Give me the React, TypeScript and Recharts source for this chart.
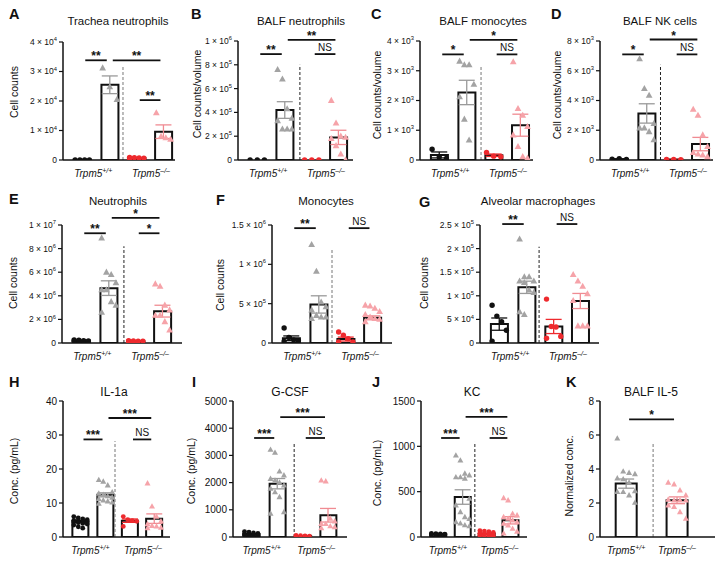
import React from 'react';
import { ComposedChart, Bar, Scatter, XAxis, YAxis, ErrorBar, ReferenceLine } from 'recharts';

const FONT = '"Liberation Sans", Arial, Helvetica, sans-serif';

const BLACK = '#111111';
const GRAY = '#a3a3a3';
const GRAY_ERR = '#9a9a9a';
const RED = '#ee2a2e';
const PINK = '#f6a3a9';
const PINK_ERR = '#f08b92';

const GENO = ['+/+', '\u2013/\u2013'];
const CENTERS4 = [0.7, 1.7, 2.68, 3.65];
const GENO_AT4 = [1.1, 3.2];
const CENTERS2 = [0.95, 2.8];

// ---- A: Trachea neutrophils
const aTicks = [0, 10000, 20000, 30000, 40000];
const aPts = [[0, 0, 0, 0], [31200, 24800, 20500], [900, 800, 700, 600, 500], [16000, 8000, 7500, 7000]];
const aMean = [0, 25500, 700, 9600];
const aSem = [0, 3000, 100, 2300];
const aBrackets: Bracket[] = [[0, 1, 33800, '**'], [1, 3, 33800, '**'], [2, 3, 20300, '**']];

// ---- B: BALF neutrophils
const bTicks = [0, 200000, 400000, 600000, 800000, 1000000];
const bPts = [[0, 0, 0], [760000, 680000, 430000, 350000, 330000, 260000, 260000, 260000], [0, 0, 0], [500000, 310000, 200000, 190000, 180000, 120000, 50000, 0]];
const bMean = [0, 420000, 0, 190000];
const bSem = [0, 70000, 0, 60000];
const bBrackets: Bracket[] = [[0, 1, 890000, '**'], [1, 3, 1010000, '**'], [2, 3, 890000, 'NS']];

// ---- C: BALF monocytes
const cTicks = [0, 1000, 2000, 3000, 4000];
const cPts = [[360, 100, 50], [3320, 3200, 3200, 2540, 2120, 1370, 670], [250, 130, 110], [3300, 1730, 1500, 1120, 840, 450, 110, 60]];
const cMean = [170, 2270, 160, 1170];
const cSem = [100, 410, 40, 370];
const cBrackets: Bracket[] = [[0, 1, 3550, '*'], [1, 3, 4040, '*'], [2, 3, 3550, 'NS']];

// ---- D: BALF NK cells
const dTicks = [0, 2000, 4000, 6000, 8000];
const dPts = [[50, 80, 30], [6800, 4800, 4350, 2450, 2150, 2150, 1900, 1350], [30, 40, 20], [3400, 3000, 1680, 900, 500, 400, 330, 220]];
const dMean = [55, 3130, 30, 1070];
const dSem = [15, 650, 8, 450];
const dBrackets: Bracket[] = [[0, 1, 7100, '*'], [1, 3, 8100, '*'], [2, 3, 7100, 'NS']];

// ---- E: Neutrophils
const eTicks = [0, 2000000, 4000000, 6000000, 8000000, 10000000];
const ePts = [[250000, 230000, 200000, 180000, 150000], [8900000, 6000000, 5800000, 5100000, 4500000, 4500000, 3500000, 3200000, 2600000], [200000, 180000, 160000, 150000, 130000, 120000], [5000000, 4800000, 3200000, 2800000, 2350000, 2350000, 1800000, 1100000]];
const eMean = [200000, 4650000, 150000, 2700000];
const eSem = [20000, 620000, 15000, 500000];
const eBrackets: Bracket[] = [[0, 1, 9300000, '**'], [1, 3, 10600000, '*'], [2, 3, 9300000, '*']];

// ---- F: Monocytes
const fTicks = [0, 500000, 1000000, 1500000];
const fPts = [[190000, 70000, 40000, 30000, 20000], [1250000, 910000, 520000, 460000, 420000, 350000, 330000, 330000, 310000], [140000, 100000, 55000, 13000, 13000], [480000, 470000, 440000, 400000, 360000, 330000, 310000, 300000, 270000]];
const fMean = [60000, 490000, 50000, 320000];
const fSem = [30000, 110000, 25000, 25000];
const fBrackets: Bracket[] = [[0, 1, 1460000, '**'], [2, 3, 1460000, 'NS']];

// ---- G: Alveolar macrophages
const gTicks = [0, 50000, 100000, 150000, 200000, 250000];
const gPts = [[80000, 57000, 45000, 27000, 4000], [220000, 140000, 140000, 131000, 131000, 128000, 112000, 107000, 66000, 60000], [93000, 35000, 34000, 14000, 10000], [145000, 131000, 120000, 104000, 90000, 36000, 36000, 36000]];
const gMean = [40000, 118000, 35000, 89000];
const gSem = [13000, 13000, 15000, 16000];
const gBrackets: Bracket[] = [[0, 1, 252000, '**'], [2, 3, 252000, 'NS']];

// ---- H: IL-1a
const hTicks = [0, 10, 20, 30, 40];
const hPts = [[6.0, 5.6, 5.3, 5.1, 4.9, 4.8, 4.6, 4.5, 4.4, 4.2, 4.0, 3.8, 3.5, 3.0, 2.6], [16.8, 16.3, 15.2, 13.2, 12.8, 12.4, 12.0, 11.6, 11.2, 10.8, 10.5, 10.2, 9.8], [6.0, 5.1, 4.8, 4.6, 3.1], [15.8, 9.0, 6.0, 4.6, 3.8, 3.3, 3.1, 2.8, 2.6]];
const hMean = [4.6, 12.4, 4.8, 5.4];
const hSem = [0.25, 0.6, 0.5, 1.4];
const hBrackets: Bracket[] = [[0, 1, 28.7, '***'], [1, 3, 35, '***'], [2, 3, 28.7, 'NS']];

// ---- I: G-CSF
const iTicks = [0, 1000, 2000, 3000, 4000, 5000];
const iPts = [[200, 180, 150, 130, 110, 100, 90, 80, 70, 60, 50, 40], [3210, 3100, 2410, 2270, 2140, 2080, 2000, 1900, 1780, 1650, 1470, 920, 860], [60, 50, 40, 30, 20], [2080, 2050, 680, 580, 480, 480, 400, 360, 330]];
const iMean = [100, 1960, 40, 800];
const iSem = [15, 190, 8, 250];
const iBrackets: Bracket[] = [[0, 1, 3640, '***'], [1, 3, 4410, '***'], [2, 3, 3640, 'NS']];

// ---- J: KC
const jTicks = [0, 500, 1000, 1500];
const jPts = [[40, 38, 35, 32, 30, 30, 28, 26, 25, 22, 20], [900, 845, 700, 680, 660, 660, 645, 423, 350, 275, 220, 200, 165, 150, 130, 120], [70, 65, 60, 50, 40, 35, 30, 25, 20, 15, 10, 5], [430, 405, 257, 240, 220, 202, 184, 165, 147, 129, 92, 60, 40]];
const jMean = [30, 441, 35, 184];
const jSem = [3, 80, 7, 40];
const jBrackets: Bracket[] = [[0, 1, 1092, '***'], [1, 3, 1324, '***'], [2, 3, 1092, 'NS']];

// ---- K: BALF IL-5
const kTicks = [0, 2, 4, 6, 8];
const kPts = [[5.8, 3.86, 3.78, 3.7, 3.45, 3.4, 3.2, 2.7, 2.65, 2.65, 2.45, 2.02], [3.2, 3.1, 2.75, 2.45, 2.2, 2.16, 2.16, 2.16, 1.86, 1.78, 1.47, 1.08]];
const kMean = [3.14, 2.16];
const kSem = [0.27, 0.2];
const kBrackets: Bracket[] = [[0, 1, 6.92, '*']];

type Bracket = [number, number, number, string];
type Style = { kind: 'dot' | 'tri'; color: string; err: string };

const STYLE4: Style[] = [
  { kind: 'dot', color: BLACK, err: BLACK },
  { kind: 'tri', color: GRAY, err: GRAY_ERR },
  { kind: 'dot', color: RED, err: RED },
  { kind: 'tri', color: PINK, err: PINK_ERR },
];
const STYLE2: Style[] = [STYLE4[1], STYLE4[3]];

interface Spec {
  letter: string; title: string; yLabel: string;
  box: [number, number, number, number];
  xMax: number; centers: number[]; genoAt: number[];
  ticks: number[]; sci: boolean;
  pts: number[][]; mean: number[]; sem: number[];
  styles: Style[]; barSize: number; mark: number;
  brackets: Bracket[]; divider: [number, number, string];
  letterAt: [number, number]; titleAt: [number, number, number]; yLabelAt: [number, number, number];
}

const SPECS: Spec[] = [
  { letter: 'A', title: 'Trachea neutrophils', yLabel: 'Cell counts', box: [63, 175, 42, 160], xMax: 4.07, centers: CENTERS4, genoAt: GENO_AT4, ticks: aTicks, sci: true, pts: aPts, mean: aMean, sem: aSem, styles: STYLE4, barSize: 17, mark: 2.7, brackets: aBrackets, divider: [2.18, 32000, '#777'], letterAt: [9, 9], titleAt: [118, 22, 11.5], yLabelAt: [14, 92, 10.5] },
  { letter: 'B', title: 'BALF neutrophils', yLabel: 'Cell counts/volume', box: [238, 353, 41, 160], xMax: 4.18, centers: CENTERS4, genoAt: GENO_AT4, ticks: bTicks, sci: true, pts: bPts, mean: bMean, sem: bSem, styles: STYLE4, barSize: 17, mark: 2.7, brackets: bBrackets, divider: [2.25, 800000, '#222'], letterAt: [191, 9], titleAt: [301, 22, 11.5], yLabelAt: [197, 94, 10.5] },
  { letter: 'C', title: 'BALF monocytes', yLabel: 'Cell counts/volume', box: [420, 533, 41, 160], xMax: 4.11, centers: CENTERS4, genoAt: GENO_AT4, ticks: cTicks, sci: true, pts: cPts, mean: cMean, sem: cSem, styles: STYLE4, barSize: 17, mark: 2.7, brackets: cBrackets, divider: [2.22, 3180, '#777'], letterAt: [371, 9], titleAt: [483, 22, 11.5], yLabelAt: [377, 95, 10.5] },
  { letter: 'D', title: 'BALF NK cells', yLabel: 'Cell counts/volume', box: [600, 713, 41, 160], xMax: 4.11, centers: CENTERS4, genoAt: GENO_AT4, ticks: dTicks, sci: true, pts: dPts, mean: dMean, sem: dSem, styles: STYLE4, barSize: 17, mark: 2.7, brackets: dBrackets, divider: [2.2, 6400, '#222'], letterAt: [551, 9], titleAt: [660, 22, 11.5], yLabelAt: [557, 95, 10.5] },
  { letter: 'E', title: 'Neutrophils', yLabel: 'Cell counts', box: [62, 182, 225, 343], xMax: 4.36, centers: CENTERS4, genoAt: GENO_AT4, ticks: eTicks, sci: true, pts: ePts, mean: eMean, sem: eSem, styles: STYLE4, barSize: 17, mark: 2.7, brackets: eBrackets, divider: [2.25, 8200000, '#222'], letterAt: [9, 194], titleAt: [118, 202, 11.5], yLabelAt: [13, 283, 10.5] },
  { letter: 'F', title: 'Monocytes', yLabel: 'Cell counts', box: [272, 392, 225, 343], xMax: 4.36, centers: CENTERS4, genoAt: GENO_AT4, ticks: fTicks, sci: true, pts: fPts, mean: fMean, sem: fSem, styles: STYLE4, barSize: 17, mark: 2.7, brackets: fBrackets, divider: [2.18, 1200000, '#777'], letterAt: [216, 195], titleAt: [326, 202, 11.5], yLabelAt: [220, 285, 10.5] },
  { letter: 'G', title: 'Alveolar macrophages', yLabel: 'Cell counts', box: [480, 599, 225, 343], xMax: 4.33, centers: CENTERS4, genoAt: GENO_AT4, ticks: gTicks, sci: true, pts: gPts, mean: gMean, sem: gSem, styles: STYLE4, barSize: 17, mark: 2.7, brackets: gBrackets, divider: [2.15, 204000, '#222'], letterAt: [419, 197], titleAt: [538, 202, 11.5], yLabelAt: [424, 283, 10.5] },
  { letter: 'H', title: 'IL-1a', yLabel: 'Conc. (pg/mL)', box: [63, 170, 401, 537], xMax: 4.28, centers: CENTERS4, genoAt: GENO_AT4, ticks: hTicks, sci: false, pts: hPts, mean: hMean, sem: hSem, styles: STYLE4, barSize: 16, mark: 2.4, brackets: hBrackets, divider: [2.08, 28.2, '#777'], letterAt: [9, 377], titleAt: [114, 392, 12], yLabelAt: [14, 471, 10.5] },
  { letter: 'I', title: 'G-CSF', yLabel: 'Conc. (pg/mL)', box: [233, 347, 401, 537], xMax: 4.38, centers: CENTERS4, genoAt: GENO_AT4, ticks: iTicks, sci: false, pts: iPts, mean: iMean, sem: iSem, styles: STYLE4, barSize: 16, mark: 2.4, brackets: iBrackets, divider: [2.35, 3470, '#222'], letterAt: [192, 377], titleAt: [290, 392, 12], yLabelAt: [191, 471, 10.5] },
  { letter: 'J', title: 'KC', yLabel: 'Conc. (pg/mL)', box: [421, 527, 401, 537], xMax: 4.33, centers: CENTERS4, genoAt: GENO_AT4, ticks: jTicks, sci: false, pts: jPts, mean: jMean, sem: jSem, styles: STYLE4, barSize: 16, mark: 2.4, brackets: jBrackets, divider: [2.2, 1048, '#222'], letterAt: [372, 377], titleAt: [472, 392, 12], yLabelAt: [377, 473, 10.5] },
  { letter: 'K', title: 'BALF IL-5', yLabel: 'Normalized conc.', box: [600, 715, 401, 537], xMax: 4.18, centers: CENTERS2, genoAt: CENTERS2, ticks: kTicks, sci: false, pts: kPts, mean: kMean, sem: kSem, styles: STYLE2, barSize: 21, mark: 2.4, brackets: kBrackets, divider: [1.93, 5.55, '#777'], letterAt: [566, 377], titleAt: [651, 392, 12], yLabelAt: [569, 476, 10.5] },
];

const jitter = (c: number, n: number, i: number, half: number) => {
  const k = Math.min(n, 4);
  if (k <= 1) return c;
  return c - half + (2 * half * (i % k)) / (k - 1);
};

const markShape = (st: Style, r: number) => (p: any) =>
  st.kind === 'dot' ? (
    <circle cx={p.cx} cy={p.cy} r={r} fill={st.color} />
  ) : (
    <path
      d={`M${p.cx},${p.cy - r * 1.35}L${p.cx + r * 1.25},${p.cy + r * 0.9}L${p.cx - r * 1.25},${p.cy + r * 0.9}Z`}
      fill={st.color}
    />
  );

const noShape = () => <g />;

const yTick = (sci: boolean, fs: number) => (p: any) => {
  const v = p.payload.value;
  const base = { x: p.x, y: p.y, dy: fs * 0.35, textAnchor: 'end' as const, fontSize: fs, fill: '#111' };
  if (!sci || v === 0) return <text {...base}>{v}</text>;
  const e = Math.floor(Math.log10(v) + 1e-9);
  const m = Math.round((v / Math.pow(10, e)) * 100) / 100;
  return (
    <text {...base}>
      {`${m} \u00d7 10`}
      <tspan dy={-fs * 0.45} fontSize={fs * 0.68}>{e}</tspan>
    </text>
  );
};

const genoTick = (p: any) => (
  <text x={p.x} y={p.y + 15} textAnchor="middle" fontSize={10} fontStyle="italic" fill="#111">
    Trpm5
    <tspan dy={-4} fontSize={7}>{GENO[p.index]}</tspan>
  </text>
);

function Panel({ s }: { s: Spec }) {
  const [x0, x1, yT, yB] = s.box;
  const YW = 56, MT = 26, MR = 6, XH = 26;
  const width = x1 - x0 + YW + MR;
  const height = yB - yT + MT + XH;
  const pxPerUnit = (x1 - x0) / s.xMax;
  const half = (s.barSize * 0.42) / pxPerUnit;
  const yMax = s.ticks[s.ticks.length - 1];
  const rows = s.centers.map((x, i) => ({ x, mean: s.mean[i] }));
  const inset = 3 / pxPerUnit;

  return (
    <>
      <div style={{ position: 'absolute', left: x0 - YW, top: yT - MT }}>
        <ComposedChart width={width} height={height} data={rows} margin={{ top: MT, right: MR, bottom: 0, left: 0 }}>
          <XAxis
            type="number"
            dataKey="x"
            domain={[0, s.xMax]}
            allowDataOverflow
            ticks={s.genoAt}
            interval={0}
            tick={genoTick}
            tickLine={false}
            tickSize={0}
            height={XH}
            axisLine={{ stroke: '#111', strokeWidth: 1.5 }}
          />
          <XAxis xAxisId="pts" type="number" dataKey="x" domain={[0, s.xMax]} allowDataOverflow hide />
          <YAxis
            type="number"
            domain={[0, yMax]}
            allowDataOverflow
            ticks={s.ticks}
            interval={0}
            width={YW}
            tick={yTick(s.sci, s.sci ? 8.5 : 10)}
            tickSize={4}
            tickMargin={2}
            tickLine={{ stroke: '#111', strokeWidth: 1.2 }}
            axisLine={{ stroke: '#111', strokeWidth: 1.5 }}
          />
          <Bar dataKey="mean" barSize={s.barSize} fill="#fff" stroke="#111" strokeWidth={2} isAnimationActive={false} />
          {s.pts.map((vals, g) => (
            <Scatter
              key={`p${g}`}
              xAxisId="pts"
              data={vals.map((y, i) => ({ x: jitter(s.centers[g], vals.length, i, half), y }))}
              dataKey="y"
              shape={markShape(s.styles[g], s.mark)}
              isAnimationActive={false}
            />
          ))}
          {s.mean.map((m, g) => (
            <Scatter
              key={`e${g}`}
              xAxisId="pts"
              data={[{ x: s.centers[g], y: m, e: s.sem[g] }]}
              dataKey="y"
              shape={noShape}
              isAnimationActive={false}
            >
              <ErrorBar dataKey="e" direction="y" width={8} stroke={s.styles[g].err} strokeWidth={1.3} isAnimationActive={false} />
            </Scatter>
          ))}
          <ReferenceLine
            xAxisId="pts"
            segment={[{ x: s.divider[0], y: 0 }, { x: s.divider[0], y: s.divider[1] }]}
            stroke={s.divider[2]}
            strokeWidth={1}
            strokeDasharray="3 2"
            ifOverflow="visible"
          />
          {s.brackets.map(([a, b, y, txt], k) => (
            <ReferenceLine
              key={`b${k}`}
              xAxisId="pts"
              segment={[{ x: s.centers[a] + inset, y }, { x: s.centers[b] - inset, y }]}
              stroke="#111"
              strokeWidth={1.8}
              ifOverflow="visible"
              label={{
                value: txt,
                position: 'top',
                offset: txt === 'NS' ? 3 : 0,
                fontSize: txt === 'NS' ? 10 : 12,
                fontWeight: txt === 'NS' ? 'normal' : 'bold',
                fill: '#111',
              }}
            />
          ))}
        </ComposedChart>
      </div>
      <div style={{ position: 'absolute', left: s.letterAt[0], top: s.letterAt[1] - 2, fontSize: 14.5, fontWeight: 'bold', lineHeight: 1 }}>
        {s.letter}
      </div>
      <div
        style={{
          position: 'absolute', left: s.titleAt[0], top: s.titleAt[1], fontSize: s.titleAt[2], lineHeight: 1,
          transform: 'translate(-50%, -50%)', whiteSpace: 'nowrap',
        }}
      >
        {s.title}
      </div>
      <div
        style={{
          position: 'absolute', left: s.yLabelAt[0], top: s.yLabelAt[1], fontSize: s.yLabelAt[2], lineHeight: 1,
          transform: 'translate(-50%, -50%) rotate(-90deg)', whiteSpace: 'nowrap',
        }}
      >
        {s.yLabel}
      </div>
    </>
  );
}

export default function App() {
  return (
    <div
      style={{
        position: 'absolute', left: 0, top: 0, width: 728, height: 563, background: '#fff',
        fontFamily: FONT, color: '#111', overflow: 'hidden',
      }}
    >
      {SPECS.map((s) => (
        <Panel key={s.letter} s={s} />
      ))}
    </div>
  );
}
